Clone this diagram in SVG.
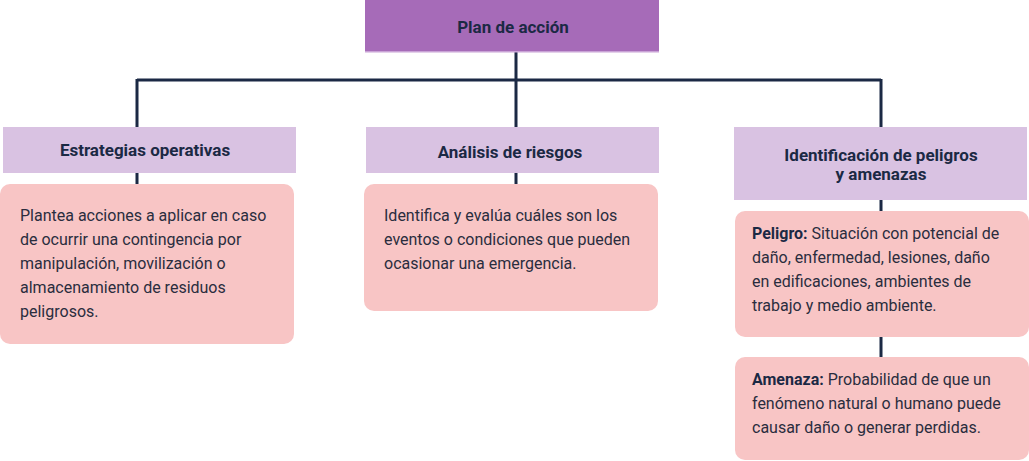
<svg xmlns="http://www.w3.org/2000/svg" width="1029" height="461" viewBox="0 0 1029 461">
<style>
.top{fill:#A66BB8}
.hdr{fill:#D9C2E2}
.card{fill:#F8C5C5}
.t{font-family:Roboto,"Liberation Sans",sans-serif;fill:#1B2944}
.b{font-weight:bold;font-size:17px;text-anchor:middle}
.p{font-size:16px;fill:#2A2D3E}
.k{font-weight:bold;fill:#1B2944}
.ln{stroke:#1B2944;stroke-width:3;fill:none}
</style>
<rect width="1029" height="461" fill="#ffffff"/>
<g id="connectors">
<path class="ln" d="M516 52V80M137 80H881M137 79V127M516 79V127M881 79V127"/>
<path class="ln" d="M137 173V185M516 173V185M881 200V212M881 337V358"/>
</g>
<g id="plan">
<rect class="top" x="365" y="0" width="294" height="52"/>
<rect x="365" y="51" width="294" height="1.5" fill="#C9A3D6"/>
<text class="t b" x="513" y="33">Plan de acción</text>
</g>
<g id="estrategias">
<rect class="hdr" x="3" y="127" width="293" height="46"/>
<text class="t b" x="145" y="156">Estrategias operativas</text>
</g>
<g id="analisis">
<rect class="hdr" x="366" y="127" width="293" height="46"/>
<text class="t b" x="510" y="158">Análisis de riesgos</text>
</g>
<g id="identificacion">
<rect class="hdr" x="734" y="127" width="293" height="73"/>
<text class="t b" x="881" y="161">Identificación de peligros</text>
<text class="t b" x="881" y="180">y amenazas</text>
</g>
<g id="estrategias-desc">
<rect class="card" x="0" y="184" width="294" height="160" rx="10"/>
<text class="t p" x="20" y="221">Plantea acciones a aplicar en caso</text>
<text class="t p" x="20" y="245">de ocurrir una contingencia por</text>
<text class="t p" x="20" y="269">manipulación, movilización o</text>
<text class="t p" x="20" y="293">almacenamiento de residuos</text>
<text class="t p" x="20" y="317">peligrosos.</text>
</g>
<g id="analisis-desc">
<rect class="card" x="364" y="184" width="294" height="127" rx="10"/>
<text class="t p" x="384" y="221">Identifica y evalúa cuáles son los</text>
<text class="t p" x="384" y="245">eventos o condiciones que pueden</text>
<text class="t p" x="384" y="269">ocasionar una emergencia.</text>
</g>
<g id="peligro">
<rect class="card" x="735" y="211" width="294" height="126" rx="10"/>
<text class="t p" x="752" y="239"><tspan class="k">Peligro:</tspan> Situación con potencial de</text>
<text class="t p" x="752" y="263">daño, enfermedad, lesiones, daño</text>
<text class="t p" x="752" y="287">en edificaciones, ambientes de</text>
<text class="t p" x="752" y="311">trabajo y medio ambiente.</text>
</g>
<g id="amenaza">
<rect class="card" x="735" y="357" width="294" height="103" rx="10"/>
<text class="t p" x="752" y="385"><tspan class="k">Amenaza:</tspan> Probabilidad de que un</text>
<text class="t p" x="752" y="409">fenómeno natural o humano puede</text>
<text class="t p" x="752" y="433">causar daño o generar perdidas.</text>
</g>
</svg>
